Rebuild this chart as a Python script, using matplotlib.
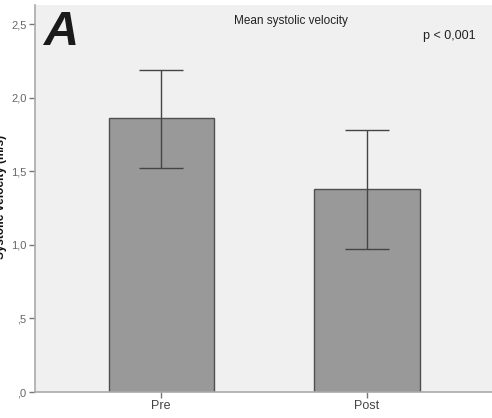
import matplotlib
matplotlib.use('agg')
import matplotlib.pyplot as plt

plt.rcParams['font.family'] = ['Liberation Sans', 'DejaVu Sans']

groups = ['Pre', 'Post']
means = [1.86, 1.38]
err_low = [1.52, 0.97]
err_high = [2.19, 1.78]
yticks = [0, 0.5, 1.0, 1.5, 2.0, 2.5]
ytick_labels = [',0', ',5', '1,0', '1,5', '2,0', '2,5']

fig = plt.figure(figsize=(4.92, 4.18), dpi=100)
ax = fig.add_axes([0.0711, 0.0622, 0.9289, 0.926])
ax.set_facecolor('#f0f0f0')

x = range(len(groups))
ax.bar(x, means, width=0.51, color='#999999', edgecolor='#505050', linewidth=1.0, zorder=2)
lo = [m - l for m, l in zip(means, err_low)]
hi = [h - m for m, h in zip(means, err_high)]
ax.errorbar(x, means, yerr=[lo, hi], fmt='none', ecolor='#444444', elinewidth=1.0,
            capsize=16, capthick=1.0, zorder=3)

ax.set_xlim(-0.612, 1.607)
ax.set_ylim(0, 2.63)
ax.set_xticks(list(x))
ax.set_xticklabels(groups, fontsize=9, color='#444444')
ax.set_yticks(yticks)
ax.set_yticklabels(ytick_labels, fontsize=8, color='#666666')
ax.tick_params(axis='both', color='#777777', length=4, width=1, pad=2)

for s in ['top', 'right']:
    ax.spines[s].set_visible(False)
for s in ['left', 'bottom']:
    ax.spines[s].set_color('#aaaaaa')
    ax.spines[s].set_linewidth(1.2)

ax.text(0.02, 0.988, 'A', transform=ax.transAxes, fontsize=35, fontweight='bold',
        fontstyle='italic', va='top', ha='left', color='#1a1a1a')
ax.text(0.56, 0.975, 'Mean systolic velocity', transform=ax.transAxes, fontsize=8.5,
        va='top', ha='center', color='#222222')
ax.text(0.965, 0.935, 'p < 0,001', transform=ax.transAxes, fontsize=9,
        va='top', ha='right', color='#222222')

# the reference shows this label partly cut at the left edge
fig.text(0.002, 0.53, 'Systolic velocity (m/s)', rotation=90, fontsize=8.5,
         fontweight='bold', va='center', ha='center', color='#111111')

fig.savefig('out.png', dpi=100)
